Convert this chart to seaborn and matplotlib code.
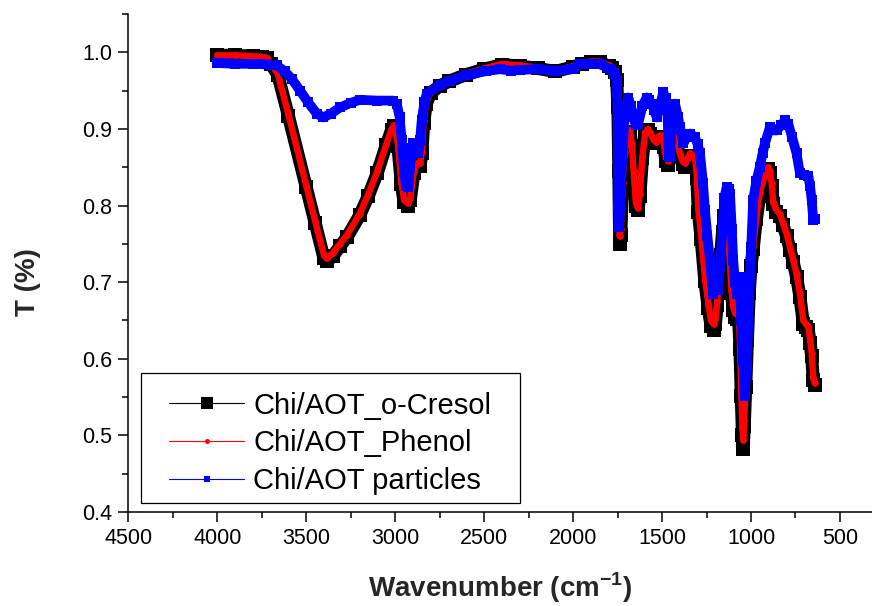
import numpy as np
import pandas as pd
import seaborn as sns
import matplotlib.pyplot as plt
from matplotlib.lines import Line2D
from matplotlib.patches import Rectangle
from matplotlib.legend_handler import HandlerLine2D
from matplotlib.ticker import MultipleLocator, FormatStrFormatter

# FTIR transmittance spectra (wavenumber in cm-1, transmittance as a fraction)
wn_cresol = [4000, 3900, 3800, 3750, 3720, 3700, 3660, 3600, 3500, 3450, 3400, 3385, 3350,
             3310, 3270, 3200, 3150, 3100, 3050, 3020, 3005, 2985, 2965, 2950, 2930, 2915,
             2895, 2875, 2860, 2850, 2840, 2825, 2800, 2750, 2700, 2600, 2500, 2400, 2300,
             2200, 2100, 2000, 1950, 1900, 1850, 1800, 1780, 1765, 1755, 1748, 1743, 1738,
             1732, 1722, 1710, 1695, 1680, 1670, 1660, 1648, 1636, 1625, 1610, 1595, 1580,
             1565, 1550, 1535, 1520, 1505, 1490, 1478, 1465, 1450, 1437, 1420, 1400, 1385,
             1370, 1355, 1343, 1330, 1315, 1305, 1296, 1280, 1260, 1240, 1225, 1210, 1200,
             1190, 1180, 1170, 1160, 1150, 1140, 1130, 1120, 1110, 1100, 1090, 1080, 1070,
             1062, 1055, 1048, 1044, 1038, 1030, 1020, 1010, 1000, 988, 970, 951, 930, 912,
             903, 895, 884, 875, 860, 837, 820, 800, 780, 763, 744, 725, 706, 690, 678, 668,
             659, 650, 641]
t_cresol = [0.996, 0.996, 0.995, 0.994, 0.993, 0.985, 0.971, 0.917, 0.824, 0.777, 0.731, 0.727,
            0.734, 0.747, 0.759, 0.787, 0.813, 0.843, 0.879, 0.899, 0.904, 0.878, 0.828, 0.804,
            0.800, 0.807, 0.843, 0.852, 0.852, 0.868, 0.908, 0.933, 0.947, 0.956, 0.962, 0.971,
            0.978, 0.984, 0.982, 0.979, 0.975, 0.981, 0.985, 0.987, 0.987, 0.982, 0.979, 0.974,
            0.964, 0.928, 0.845, 0.750, 0.762, 0.826, 0.867, 0.891, 0.896, 0.878, 0.842, 0.800,
            0.794, 0.812, 0.862, 0.893, 0.898, 0.893, 0.885, 0.881, 0.888, 0.890, 0.877, 0.858,
            0.853, 0.872, 0.891, 0.882, 0.865, 0.854, 0.850, 0.858, 0.865, 0.862, 0.858, 0.836,
            0.791, 0.756, 0.702, 0.666, 0.643, 0.638, 0.646, 0.670, 0.700, 0.736, 0.766, 0.786,
            0.797, 0.776, 0.726, 0.686, 0.664, 0.655, 0.652, 0.655, 0.613, 0.552, 0.500, 0.482,
            0.512, 0.563, 0.625, 0.686, 0.721, 0.743, 0.782, 0.813, 0.832, 0.844, 0.848, 0.843,
            0.826, 0.802, 0.792, 0.786, 0.774, 0.760, 0.742, 0.726, 0.707, 0.681, 0.646, 0.641,
            0.638, 0.621, 0.603, 0.572, 0.566]

wn_phenol = wn_cresol[:]
t_phenol = [0.996, 0.996, 0.995, 0.994, 0.993, 0.985, 0.972, 0.919, 0.826, 0.780, 0.735, 0.731,
            0.738, 0.750, 0.762, 0.789, 0.815, 0.845, 0.880, 0.900, 0.905, 0.880, 0.830, 0.807,
            0.803, 0.810, 0.845, 0.855, 0.855, 0.870, 0.910, 0.935, 0.948, 0.957, 0.963, 0.972,
            0.979, 0.985, 0.983, 0.980, 0.976, 0.982, 0.986, 0.988, 0.988, 0.983, 0.980, 0.975,
            0.965, 0.930, 0.850, 0.760, 0.770, 0.830, 0.870, 0.893, 0.898, 0.880, 0.845, 0.805,
            0.797, 0.815, 0.865, 0.895, 0.900, 0.895, 0.887, 0.883, 0.890, 0.892, 0.880, 0.862,
            0.858, 0.875, 0.893, 0.885, 0.868, 0.858, 0.855, 0.862, 0.868, 0.866, 0.863, 0.840,
            0.795, 0.760, 0.707, 0.672, 0.650, 0.645, 0.652, 0.675, 0.705, 0.740, 0.770, 0.790,
            0.800, 0.780, 0.730, 0.690, 0.668, 0.660, 0.658, 0.660, 0.620, 0.560, 0.510, 0.494,
            0.520, 0.570, 0.630, 0.690, 0.725, 0.746, 0.785, 0.816, 0.834, 0.846, 0.850, 0.845,
            0.829, 0.805, 0.795, 0.789, 0.777, 0.763, 0.745, 0.729, 0.711, 0.685, 0.650, 0.645,
            0.642, 0.625, 0.607, 0.575, 0.568]

wn_particles = [4000, 3900, 3800, 3700, 3666, 3620, 3580, 3535, 3490, 3441, 3404, 3360, 3310,
                3250, 3198, 3100, 3011, 2990, 2975, 2963, 2950, 2940, 2926, 2917, 2905, 2898,
                2880, 2870, 2860, 2851, 2835, 2823, 2750, 2692, 2600, 2500, 2411, 2350, 2300,
                2200, 2100, 2000, 1962, 1900, 1850, 1793, 1770, 1755, 1750, 1746, 1742, 1735,
                1725, 1709, 1690, 1675, 1662, 1648, 1634, 1610, 1587, 1572, 1559, 1545, 1530,
                1512, 1493, 1480, 1470, 1462, 1455, 1445, 1427, 1410, 1399, 1380, 1360, 1343,
                1315, 1300, 1287, 1270, 1259, 1245, 1231, 1220, 1212, 1200, 1193, 1185, 1175,
                1160, 1150, 1137, 1125, 1118, 1108, 1100, 1090, 1081, 1070, 1063, 1055, 1044,
                1035, 1025, 1016, 1000, 988, 970, 951, 935, 922, 894, 870, 856, 830, 809, 791,
                770, 744, 725, 700, 678, 668, 659, 650, 641]
t_particles = [0.986, 0.985, 0.985, 0.984, 0.983, 0.975, 0.965, 0.950, 0.935, 0.920, 0.915, 0.920,
               0.928, 0.934, 0.938, 0.937, 0.937, 0.932, 0.915, 0.885, 0.845, 0.826, 0.824, 0.850,
               0.875, 0.881, 0.872, 0.868, 0.885, 0.911, 0.935, 0.946, 0.957, 0.963, 0.970, 0.975,
               0.978, 0.976, 0.977, 0.978, 0.976, 0.978, 0.985, 0.985, 0.985, 0.978, 0.973, 0.963,
               0.920, 0.800, 0.772, 0.800, 0.860, 0.920, 0.941, 0.930, 0.915, 0.905, 0.907, 0.930,
               0.941, 0.938, 0.933, 0.925, 0.915, 0.930, 0.948, 0.940, 0.925, 0.865, 0.863, 0.910,
               0.933, 0.915, 0.902, 0.881, 0.890, 0.894, 0.889, 0.880, 0.868, 0.830, 0.794, 0.760,
               0.729, 0.700, 0.685, 0.700, 0.720, 0.690, 0.720, 0.770, 0.810, 0.824, 0.822, 0.815,
               0.770, 0.729, 0.700, 0.685, 0.700, 0.707, 0.650, 0.598, 0.552, 0.590, 0.642, 0.740,
               0.807, 0.832, 0.850, 0.868, 0.881, 0.902, 0.898, 0.898, 0.905, 0.911, 0.907, 0.890,
               0.868, 0.842, 0.840, 0.839, 0.825, 0.807, 0.781, 0.783]

labels = ["Chi/AOT_o-Cresol", "Chi/AOT_Phenol", "Chi/AOT particles"]
colors = ["black", "#ff0000", "#0000ff"]

sns.set_theme(style="ticks")
plt.rcParams["font.family"] = ["Liberation Sans", "DejaVu Sans"]
plt.rcParams["mathtext.fontset"] = "custom"
plt.rcParams["mathtext.rm"] = "Liberation Sans"
plt.rcParams["mathtext.bf"] = "Liberation Sans:bold"

fig = plt.figure(figsize=(8.72, 6.06), dpi=100)
ax = fig.add_axes([128.3 / 872, 94 / 606, (872 - 128.3) / 872, 498 / 606])

series = [
    (wn_cresol, t_cresol, colors[0], 9.4, "s", 9.6),
    (wn_phenol, t_phenol, colors[1], 4.6, "o", 4.8),
    (wn_particles, t_particles, colors[2], 7.0, "s", 7.2),
]
for (wn, t, c, lw, mk, ms), name in zip(series, labels):
    df = pd.DataFrame({"wavenumber": wn, "T": t})
    sns.lineplot(data=df, x="wavenumber", y="T", ax=ax, color=c, linewidth=lw,
                 marker=mk, markersize=ms, markeredgewidth=0, markeredgecolor=c,
                 sort=False, estimator=None, legend=False,
                 solid_joinstyle="round", solid_capstyle="round")

ax.set_xlim(4500, 320)
ax.set_ylim(0.4, 1.05)
ax.xaxis.set_major_locator(MultipleLocator(500))
ax.xaxis.set_minor_locator(MultipleLocator(250))
ax.yaxis.set_major_locator(MultipleLocator(0.1))
ax.yaxis.set_minor_locator(MultipleLocator(0.05))
ax.yaxis.set_major_formatter(FormatStrFormatter("%.1f"))
ax.xaxis.set_major_formatter(FormatStrFormatter("%d"))

sns.despine(ax=ax)
for side in ("left", "bottom"):
    ax.spines[side].set_linewidth(1.1)
    ax.spines[side].set_color("black")
ax.tick_params(which="major", direction="out", length=7.5, width=1.1, labelsize=15.5,
               pad=4, color="black", labelcolor="black")
ax.tick_params(which="minor", direction="out", length=4, width=1.1, color="black")

ax.set_xlabel(r"Wavenumber (cm$^{\mathbf{-1}}$)", fontsize=20, fontweight="bold")
ax.set_ylabel("T (%)", fontsize=20, fontweight="bold")
ax.xaxis.set_label_coords(0.5, -0.117)
ax.yaxis.set_label_coords(-0.117, 0.4625)


class LeadLineHandler(HandlerLine2D):
    """Legend line that starts a little to the right of the handle box."""

    def create_artists(self, legend, orig_handle, xdescent, ydescent, width, height,
                       fontsize, trans):
        lead = 0.19 * width
        return super().create_artists(legend, orig_handle, xdescent - lead, ydescent,
                                      width - lead, height, fontsize, trans)


handles = [
    Line2D([], [], color=colors[0], lw=0.8, marker="s", markersize=8.6,
           markeredgewidth=0, markerfacecolor=colors[0]),
    Line2D([], [], color=colors[1], lw=0.8, marker="o", markersize=3.6,
           markeredgewidth=0, markerfacecolor=colors[1]),
    Line2D([], [], color=colors[2], lw=0.8, marker="s", markersize=4.6,
           markeredgewidth=0, markerfacecolor=colors[2]),
]

# legend frame drawn as a plain rectangle with a wider right margin
frame = Rectangle((0.0171, 0.0181), 0.5096, 0.261, transform=ax.transAxes,
                  facecolor="white", edgecolor="black", linewidth=0.9, zorder=4.5)
ax.add_patch(frame)

leg = ax.legend(handles, labels, loc="lower left", bbox_to_anchor=(0.017, 0.014),
                borderaxespad=0, frameon=False, fontsize=21, handlelength=3.2,
                handletextpad=0.3, borderpad=0.35, labelspacing=0.33, numpoints=1,
                handler_map={Line2D: LeadLineHandler()})
leg.set_zorder(5)
for txt in leg.get_texts():
    txt.set_color("black")

fig.savefig("out.png", dpi=100)
